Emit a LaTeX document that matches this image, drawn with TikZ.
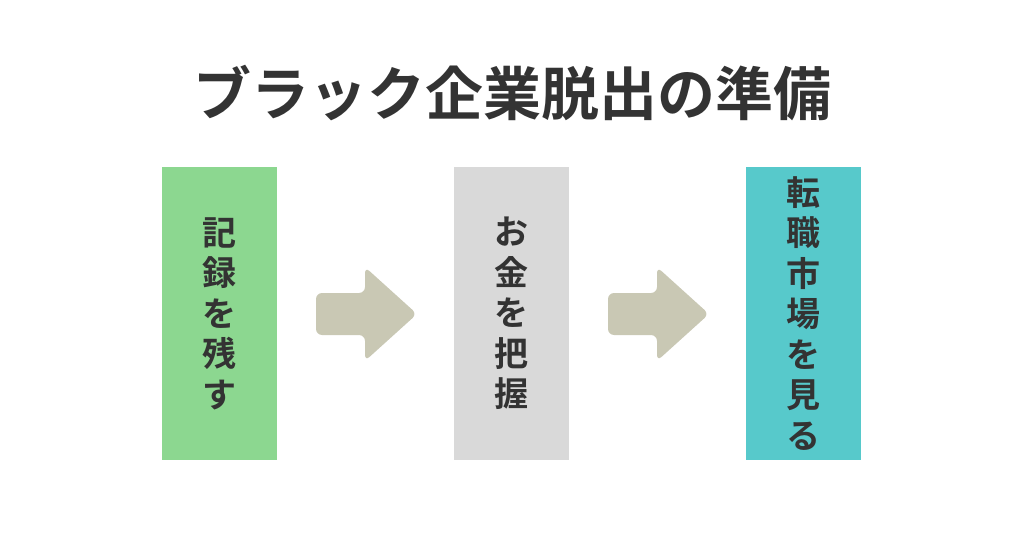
\documentclass[tikz,border=0pt]{standalone}
\usepackage{fontspec}
\newfontfamily\cjk{Noto Sans CJK JP Bold}
\definecolor{cgreen}{HTML}{8CD790}
\definecolor{cgray}{HTML}{D9D9D9}
\definecolor{cteal}{HTML}{57C9CB}
\definecolor{carrow}{HTML}{C9C8B4}
\definecolor{ctext}{HTML}{333333}
\begin{document}
\begin{tikzpicture}[x=1pt,y=-1pt,
  box/.style={minimum width=115pt,minimum height=293pt,inner sep=0pt},
  vtext/.style={font=\cjk\fontsize{34}{40.5}\selectfont,text=ctext,align=center},
  arr/.style={fill=carrow,rounded corners=6pt}]
\useasboundingbox (0,0) rectangle (1024,537);
\node[font=\cjk\fontsize{58}{62}\selectfont,text=ctext] (title) at (512,93) {ブラック企業脱出の準備};
\node[box,fill=cgreen] (b1) at (219.5,313.5) {};
\node[box,fill=cgray] (b2) at (511.5,313.5) {};
\node[box,fill=cteal] (b3) at (803.5,313.5) {};
\node[vtext] (t1) at (b1) {記\\録\\を\\残\\す};
\node[vtext] (t2) at (b2) {お\\金\\を\\把\\握};
\node[vtext] (t3) at (b3) {転\\職\\市\\場\\を\\見\\る};
\foreach \x in {316,608}{
  \fill[arr] (\x,293) -- (\x+49,293) -- (\x+49,267) -- (\x+101,314) -- (\x+49,361) -- (\x+49,335) -- (\x,335) -- cycle;
}
\end{tikzpicture}
\end{document}
